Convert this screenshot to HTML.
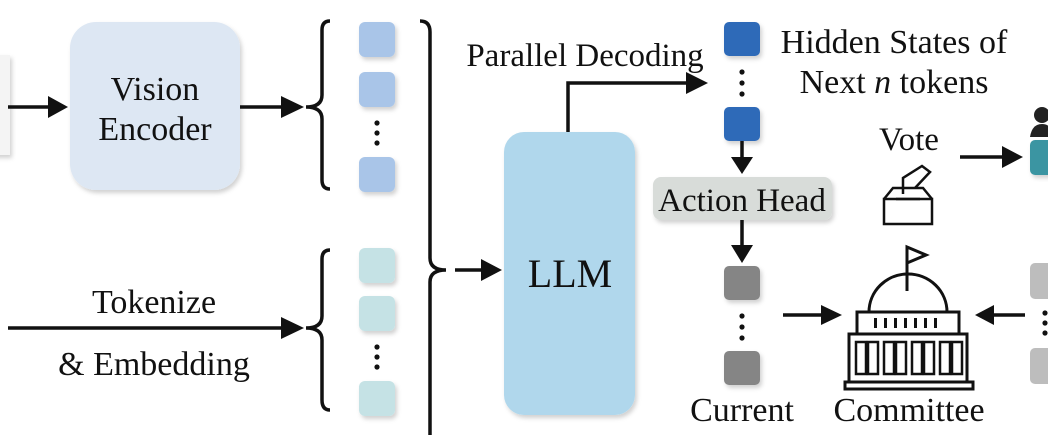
<!DOCTYPE html>
<html><head><meta charset="utf-8"><style>
html,body{margin:0;padding:0;background:#fff;}
svg{display:block;}
text{font-family:"Liberation Serif",serif;fill:#111;}
</style></head><body>
<svg width="1048" height="445" viewBox="0 0 1048 445" xmlns="http://www.w3.org/2000/svg">
<defs>
<filter id="sh" x="-20%" y="-20%" width="140%" height="140%"><feDropShadow dx="2" dy="3" stdDeviation="2" flood-color="#000" flood-opacity="0.18"/></filter>
</defs>
<rect x="-20" y="55" width="30" height="100" fill="#f4f4f4" filter="url(#sh)"/>
<line x1="8" y1="107" x2="50" y2="107" stroke="#111" stroke-width="3.5"/>
<polygon points="48,96 68,107 48,118" fill="#111"/>
<rect x="70" y="22" width="170" height="168" rx="26" fill="#dde7f3" filter="url(#sh)"/>
<text x="155" y="100" font-size="34" text-anchor="middle">Vision</text>
<text x="155" y="140" font-size="34" text-anchor="middle">Encoder</text>
<line x1="240" y1="107" x2="285" y2="107" stroke="#111" stroke-width="3.5"/>
<polygon points="281,96 304,107 281,118" fill="#111"/>
<path d="M330,21 Q322,21 322,30 L322,95 Q322,107 306,107 Q322,107 322,119 L322,180 Q322,189 330,189" fill="none" stroke="#111" stroke-width="3.5"/>
<g filter="url(#sh)" fill="#a9c5e8">
<rect x="359" y="22" width="36" height="35" rx="6"/>
<rect x="359" y="72" width="36" height="35" rx="6"/>
<rect x="359" y="157" width="36" height="35" rx="6"/>
</g>
<g fill="#111"><circle cx="377" cy="123" r="2.6"/><circle cx="377" cy="133" r="2.6"/><circle cx="377" cy="143" r="2.6"/></g>
<path d="M420,21 Q430,21 430,32 L430,258 Q430,270 446,270 Q430,270 430,282 L430,435" fill="none" stroke="#111" stroke-width="3.5"/>
<line x1="455" y1="270" x2="485" y2="270" stroke="#111" stroke-width="3.5"/>
<polygon points="481,259 502,270 481,281" fill="#111"/>
<rect x="504" y="132" width="131" height="283" rx="20" fill="#b0d7ec" filter="url(#sh)"/>
<text x="570" y="287" font-size="40" text-anchor="middle">LLM</text>
<path d="M330,250 Q322,250 322,259 L322,316 Q322,328 306,328 Q322,328 322,340 L322,400 Q322,410 330,410" fill="none" stroke="#111" stroke-width="3.5"/>
<g filter="url(#sh)" fill="#c5e2e5">
<rect x="359" y="248" width="36" height="35" rx="6"/>
<rect x="359" y="296" width="36" height="35" rx="6"/>
<rect x="359" y="381" width="36" height="35" rx="6"/>
</g>
<g fill="#111"><circle cx="377" cy="347" r="2.6"/><circle cx="377" cy="357" r="2.6"/><circle cx="377" cy="367" r="2.6"/></g>
<line x1="8" y1="328" x2="285" y2="328" stroke="#111" stroke-width="3.5"/>
<polygon points="281,317 304,328 281,339" fill="#111"/>
<text x="154" y="313" font-size="34" text-anchor="middle">Tokenize</text>
<text x="154" y="375" font-size="34" text-anchor="middle">&amp; Embedding</text>
<text x="585" y="66" font-size="33" text-anchor="middle">Parallel Decoding</text>
<polyline points="568,132 568,83 690,83" fill="none" stroke="#111" stroke-width="3.5"/>
<polygon points="686,72 708,83 686,94" fill="#111"/>
<g filter="url(#sh)" fill="#2f6bb8">
<rect x="724" y="22" width="36" height="34" rx="5"/>
<rect x="724" y="107" width="36" height="34" rx="5"/>
</g>
<g fill="#111"><circle cx="742" cy="72" r="2.6"/><circle cx="742" cy="83" r="2.6"/><circle cx="742" cy="94" r="2.6"/></g>
<text x="894" y="53" font-size="34" text-anchor="middle">Hidden States of</text>
<text x="894" y="93" font-size="34" text-anchor="middle">Next <tspan font-style="italic">n</tspan> tokens</text>
<line x1="742" y1="141" x2="742" y2="160" stroke="#111" stroke-width="3.5"/>
<polygon points="731,157 742,174 753,157" fill="#111"/>
<rect x="653" y="177" width="179" height="43" rx="8" fill="#d8dcd9" filter="url(#sh)"/>
<text x="742" y="211" font-size="33" text-anchor="middle">Action Head</text>
<line x1="742" y1="220" x2="742" y2="248" stroke="#111" stroke-width="3.5"/>
<polygon points="731,245 742,263 753,245" fill="#111"/>
<g filter="url(#sh)" fill="#858585">
<rect x="724" y="266" width="36" height="34" rx="5"/>
<rect x="724" y="351" width="36" height="34" rx="5"/>
</g>
<g fill="#111"><circle cx="742" cy="316" r="2.6"/><circle cx="742" cy="327" r="2.6"/><circle cx="742" cy="338" r="2.6"/></g>
<text x="742" y="421" font-size="34" text-anchor="middle">Current</text>
<line x1="783" y1="315" x2="825" y2="315" stroke="#111" stroke-width="3.5"/>
<polygon points="821,305 842,315 821,325" fill="#111"/>
<text x="909" y="421" font-size="34" text-anchor="middle">Committee</text>
<g fill="none" stroke="#111" stroke-width="3">
<line x1="907" y1="291" x2="907" y2="247"/>
<polygon points="907,247 926,255 907,263" fill="#fff"/>
<path d="M869,312 A39,38 0 0 1 947,312"/>
<rect x="857" y="312" width="102" height="22"/>
<rect x="849" y="334" width="118" height="48"/>
<rect x="845" y="382" width="128" height="7"/>
</g>
<g fill="#111">
<rect x="874" y="318" width="3" height="10"/><rect x="884" y="318" width="3" height="10"/><rect x="894" y="318" width="3" height="10"/><rect x="904" y="318" width="3" height="10"/><rect x="914" y="318" width="3" height="10"/><rect x="924" y="318" width="3" height="10"/><rect x="934" y="318" width="3" height="10"/>
</g>
<g fill="none" stroke="#111" stroke-width="2.5">
<rect x="856" y="342" width="10" height="32"/><rect x="868" y="342" width="10" height="32"/>
<rect x="884" y="342" width="10" height="32"/><rect x="896" y="342" width="10" height="32"/>
<rect x="912" y="342" width="10" height="32"/><rect x="924" y="342" width="10" height="32"/>
<rect x="940" y="342" width="10" height="32"/><rect x="952" y="342" width="10" height="32"/>
</g>
<text x="909" y="150" font-size="33" text-anchor="middle">Vote</text>
<g fill="none" stroke="#111" stroke-width="2.5">
<rect x="884" y="199" width="48" height="25"/>
<polyline points="884,199 893,188 923,188 932,199"/>
<path d="M903,194 L903,178 L922,166 L930,172 L915,188"/>
<line x1="896" y1="199" x2="920" y2="199"/>
</g>
<line x1="960" y1="157" x2="1005" y2="157" stroke="#111" stroke-width="3.5"/>
<polygon points="1002,146 1023,157 1002,168" fill="#111"/>
<rect x="1030" y="140" width="30" height="35" rx="5" fill="#3b95a2" filter="url(#sh)"/>
<circle cx="1042" cy="115" r="8" fill="#222"/>
<path d="M1030,137 Q1032,124 1042,124 Q1052,124 1054,137 Z" fill="#222"/>
<g fill="#bdbdbd">
<rect x="1030" y="263" width="30" height="36" rx="5"/>
<rect x="1030" y="348" width="30" height="36" rx="5"/>
</g>
<g fill="#111"><circle cx="1045" cy="313" r="2.6"/><circle cx="1045" cy="323" r="2.6"/><circle cx="1045" cy="333" r="2.6"/></g>
<line x1="1025" y1="315" x2="990" y2="315" stroke="#111" stroke-width="3.5"/>
<polygon points="994,305 975,315 994,325" fill="#111"/>
</svg>
</body></html>
